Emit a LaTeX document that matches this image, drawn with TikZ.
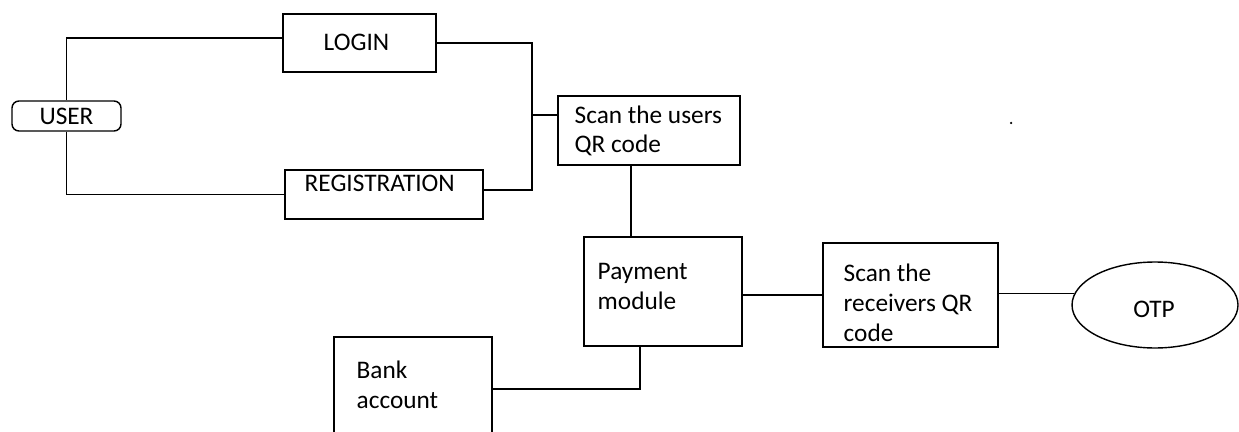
\documentclass[tikz,border=0pt]{standalone}
\usepackage{fontspec}
\setmainfont{Carlito}
\usetikzlibrary{fit,shapes.geometric}
\begin{document}
\begin{tikzpicture}[x=0.02cm,y=-0.02cm,line width=0.8pt,
  box/.style={draw,inner sep=0pt,fit={#1}},
  txt/.style={inner sep=0pt,anchor=base west,align=left,
    font=\fontsize{14.4pt}{17pt}\selectfont},
  link/.style={draw,line width=0.8pt}]
\useasboundingbox (0,0) rectangle (1239,432);
\clip (0,0) rectangle (1239,432);

% user terminal
\node[draw,rounded corners=0.14cm,minimum width=2.18cm,minimum height=0.6cm,
  inner sep=0pt,font=\fontsize{14.4pt}{17pt}\selectfont] (user) at (66.5,116) {USER};

% boxes (multi-line labels are placed by the baseline of their last line)
\node[box={(283,14) (436,72)}] (login) {};
\node[txt] (login-t) at (323,51) {LOGIN};

\node[box={(285,170) (483,219)}] (reg) {};
\node[txt] (reg-t) at (304,192) {REGISTRATION};

\node[box={(558,96) (740,165)}] (scan) {};
\node[txt] (scan-t) at (574,153) {Scan the users\\QR code};

\node[box={(584,237) (742,346)}] (pay) {};
\node[txt] (pay-t) at (597,309) {Payment\\module};

\node[box={(334,337) (492,441)}] (bank) {};
\node[txt] (bank-t) at (356,408) {Bank\\account};

\node[box={(823,243) (998,347)}] (rcv) {};
\node[txt] (rcv-t) at (843,341) {Scan the\\receivers QR\\code};

\node[draw,ellipse,minimum width=3.32cm,minimum height=1.72cm,inner sep=0pt] (otp) at (1155,305) {};
\node[inner sep=0pt,font=\fontsize{14.4pt}{17pt}\selectfont] (otp-t) at (1154,309.5) {OTP};

% connectors
\coordinate (bus) at (532,115);
\coordinate (drop) at (631,0);
\draw[link] (user.north) |- ([yshift=0.1cm]login.west);
\draw[link] (user.south) |- (reg.west);
\draw[link] (login.east) -| (bus) |- ([yshift=0.09cm]reg.east);
\draw[link] (bus) -- (bus -| scan.west);
\draw[link] (scan.south -| drop) -- (pay.north -| drop);
\draw[link] (pay.east |- rcv.west) -- (rcv.west);
\draw[link] (rcv.east |- otp.172) -- (otp.172);
\draw[link] ([xshift=-0.46cm]pay.south) |- (bank.east);

% stray mark
\fill (1011,123) circle (0.025cm);
\end{tikzpicture}
\end{document}
